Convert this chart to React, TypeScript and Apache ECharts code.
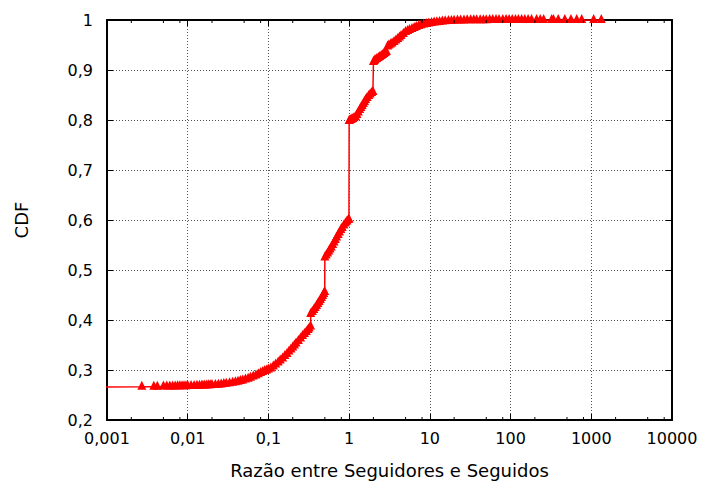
import React, { useEffect, useRef } from "react";
import * as echarts from "echarts";

const ratio = [
  0.0005, 0.0027, 0.0038, 0.0042, 0.005, 0.0055, 0.006, 0.0065, 0.007, 0.0075,
  0.008, 0.0085, 0.009, 0.0095, 0.01, 0.011, 0.012, 0.013, 0.014, 0.015,
  0.016, 0.017, 0.018, 0.019, 0.02, 0.022, 0.024, 0.026, 0.028, 0.03,
  0.033, 0.036, 0.039, 0.042, 0.045, 0.048, 0.052, 0.056, 0.06, 0.065,
  0.07, 0.075, 0.08, 0.085, 0.09, 0.095,
  0.1, 0.107, 0.115, 0.123, 0.132, 0.14, 0.15, 0.16, 0.17, 0.18,
  0.19, 0.2, 0.21, 0.22, 0.235, 0.25, 0.265, 0.28, 0.295, 0.31,
  0.32, 0.333,
  0.334, 0.35, 0.365, 0.38, 0.395, 0.41, 0.425, 0.44, 0.455, 0.47,
  0.485, 0.498,
  0.5, 0.52, 0.54, 0.56, 0.58, 0.6, 0.625, 0.65, 0.675, 0.7,
  0.73, 0.76, 0.79, 0.82, 0.86, 0.9, 0.94, 0.98, 0.995,
  1, 1.02, 1.05, 1.08, 1.11, 1.15, 1.2, 1.25, 1.3, 1.35,
  1.4, 1.45, 1.5, 1.55, 1.6, 1.67, 1.75, 1.82, 1.9, 1.97,
  2, 2.05, 2.1, 2.2, 2.3, 2.4, 2.5, 2.6, 2.7, 2.8, 2.9,
  3, 3.1, 3.25, 3.4, 3.6, 3.8, 4, 4.2, 4.4, 4.7, 5,
  5.3, 5.6, 6, 6.4, 6.8, 7.3, 7.8, 8.4, 9, 9.7,
  10.5, 11.3, 12.2, 13.2, 14.3, 15.5, 17, 18.5, 20, 22,
  24, 26.5, 29, 32, 35, 38, 42, 46, 50, 55,
  60, 66, 72, 80, 88, 96, 105, 115, 125, 137,
  150, 165, 182, 210, 233, 257, 323, 340, 390, 470,
  560, 660, 760, 1070, 1330,
];

const cdf = [
  0.266, 0.2663, 0.2665, 0.2666, 0.2668, 0.2669, 0.267, 0.2671, 0.2672, 0.2673,
  0.2674, 0.2675, 0.2676, 0.2677, 0.2678, 0.268, 0.2682, 0.2684, 0.2686, 0.2688,
  0.269, 0.2692, 0.2694, 0.2696, 0.2698, 0.2702, 0.2707, 0.2712, 0.2718, 0.2724,
  0.2733, 0.2743, 0.2754, 0.2766, 0.2778, 0.2791, 0.2808, 0.2826, 0.2845, 0.2868,
  0.2892, 0.2915, 0.2938, 0.296, 0.2978, 0.2992,
  0.301, 0.303, 0.307, 0.311, 0.315, 0.319, 0.323, 0.328, 0.332, 0.337,
  0.341, 0.345, 0.349, 0.353, 0.358, 0.363, 0.368, 0.372, 0.376, 0.38,
  0.383, 0.387,
  0.412, 0.416, 0.42, 0.424, 0.428, 0.432, 0.436, 0.44, 0.444, 0.448,
  0.452, 0.456,
  0.525, 0.529, 0.533, 0.537, 0.541, 0.545, 0.55, 0.555, 0.56, 0.565,
  0.57, 0.575, 0.58, 0.584, 0.589, 0.593, 0.597, 0.6, 0.601,
  0.798, 0.799, 0.8, 0.801, 0.802, 0.804, 0.806, 0.81, 0.815, 0.82,
  0.824, 0.828, 0.832, 0.836, 0.84, 0.844, 0.848, 0.851, 0.854, 0.856,
  0.916, 0.918, 0.92, 0.922, 0.924, 0.926, 0.928, 0.93, 0.932, 0.934, 0.936,
  0.947, 0.949, 0.951, 0.953, 0.956, 0.959, 0.962, 0.965, 0.968, 0.972, 0.976,
  0.978, 0.98, 0.982, 0.984, 0.986, 0.988, 0.9895, 0.991, 0.992, 0.993,
  0.994, 0.9948, 0.9955, 0.9962, 0.9968, 0.9973, 0.9978, 0.9982, 0.9985, 0.9988,
  0.999, 0.9992, 0.9993, 0.9994, 0.9995, 0.9996, 0.9996, 0.9997, 0.9997, 0.9998,
  0.9998, 0.9998, 0.9999, 0.9999, 0.9999, 0.9999, 0.9999, 1, 1, 1,
  1, 1, 1, 1, 1, 1, 1, 1, 1, 1,
  1, 1, 1, 1, 1,
];

const xTickLabels = ["0,001", "0,01", "0,1", "1", "10", "100", "1000", "10000"];
const yTickLabels = ["0,2", "0,3", "0,4", "0,5", "0,6", "0,7", "0,8", "0,9", "1"];
const minorTickValues = [
  0.002, 0.005, 0.008, 0.02, 0.05, 0.08, 0.2, 0.5, 0.8, 2, 5, 8,
  20, 50, 80, 200, 500, 800, 2000, 5000, 8000,
];

const FONT = "'DejaVu Sans', sans-serif";

export default function App() {
  const ref = useRef<HTMLDivElement>(null);
  useEffect(() => {
    if (!ref.current) return;
    const chart = echarts.init(ref.current, null, { renderer: "svg" });
    const points = ratio.map((r, i) => [r, cdf[i]]);
    const gridLine = { show: true, lineStyle: { color: "#555", type: [1, 2] as any, width: 1 } };
    chart.setOption({
      animation: false,
      backgroundColor: "#fff",
      textStyle: { fontFamily: FONT },
      grid: { left: 107, right: 33, top: 20, bottom: 62, containLabel: false },
      xAxis: [
        {
          type: "log",
          logBase: 10,
          min: 0.001,
          max: 10000,
          splitNumber: 7,
          position: "bottom",
          name: "Razão entre Seguidores e Seguidos",
          nameLocation: "middle",
          nameGap: 41,
          nameTextStyle: { fontSize: 18, color: "#000", fontFamily: FONT },
          axisLine: { show: true, lineStyle: { color: "#000", width: 2 } },
          axisTick: { show: true, inside: true, length: 6, lineStyle: { color: "#000", width: 1 } },
          axisLabel: {
            fontSize: 16,
            color: "#000",
            margin: 10,
            fontFamily: FONT,
            formatter: (v: number) => xTickLabels[Math.round(Math.log10(v)) + 3] ?? "",
          },
          splitLine: gridLine,
        },
        {
          type: "log",
          logBase: 10,
          min: 0.001,
          max: 10000,
          splitNumber: 7,
          position: "top",
          axisLine: { show: true, lineStyle: { color: "#000", width: 2 } },
          axisTick: { show: true, inside: true, length: 6, lineStyle: { color: "#000", width: 1 } },
          axisLabel: { show: false },
          splitLine: { show: false },
        },
      ],
      yAxis: [
        {
          type: "value",
          min: 0.2,
          max: 1,
          interval: 0.1,
          position: "left",
          name: "CDF",
          nameLocation: "middle",
          nameGap: 77,
          nameTextStyle: { fontSize: 18, color: "#000", fontFamily: FONT },
          axisLine: { show: true, lineStyle: { color: "#000", width: 2 } },
          axisTick: { show: true, inside: true, length: 6, lineStyle: { color: "#000", width: 1 } },
          axisLabel: {
            fontSize: 16,
            color: "#000",
            margin: 14,
            fontFamily: FONT,
            formatter: (v: number) => yTickLabels[Math.round(v * 10) - 2] ?? "",
          },
          splitLine: gridLine,
        },
        {
          type: "value",
          min: 0.2,
          max: 1,
          interval: 0.1,
          position: "right",
          axisLine: { show: true, lineStyle: { color: "#000", width: 2 } },
          axisTick: { show: true, inside: true, length: 6, lineStyle: { color: "#000", width: 1 } },
          axisLabel: { show: false },
          splitLine: { show: false },
        },
      ],
      series: [
        {
          type: "custom",
          xAxisIndex: 0,
          yAxisIndex: 0,
          silent: true,
          clip: false,
          z: 5,
          data: minorTickValues.map((v) => [v, 0.2]),
          renderItem: (_p: any, api: any) => {
            const x = api.value(0);
            const b = api.coord([x, 0.2]);
            const t = api.coord([x, 1]);
            return {
              type: "group",
              children: [
                { type: "line", shape: { x1: b[0], y1: b[1], x2: b[0], y2: b[1] - 3 }, style: { stroke: "#000", lineWidth: 1 } },
                { type: "line", shape: { x1: t[0], y1: t[1], x2: t[0], y2: t[1] + 3 }, style: { stroke: "#000", lineWidth: 1 } },
              ],
            };
          },
        },
        {
          type: "line",
          xAxisIndex: 0,
          yAxisIndex: 0,
          data: points,
          clip: true,
          z: 3,
          symbol: "triangle",
          symbolSize: [9, 9],
          symbolOffset: [0, -1.5],
          showAllSymbol: true,
          lineStyle: { color: "#ff0000", width: 1.5 },
          itemStyle: { color: "#ff0000" },
        },
      ],
    });
    return () => chart.dispose();
  }, []);
  return (
    <div
      ref={ref}
      style={{ position: "fixed", left: 0, top: 0, width: 705, height: 484, background: "#fff" }}
    />
  );
}
